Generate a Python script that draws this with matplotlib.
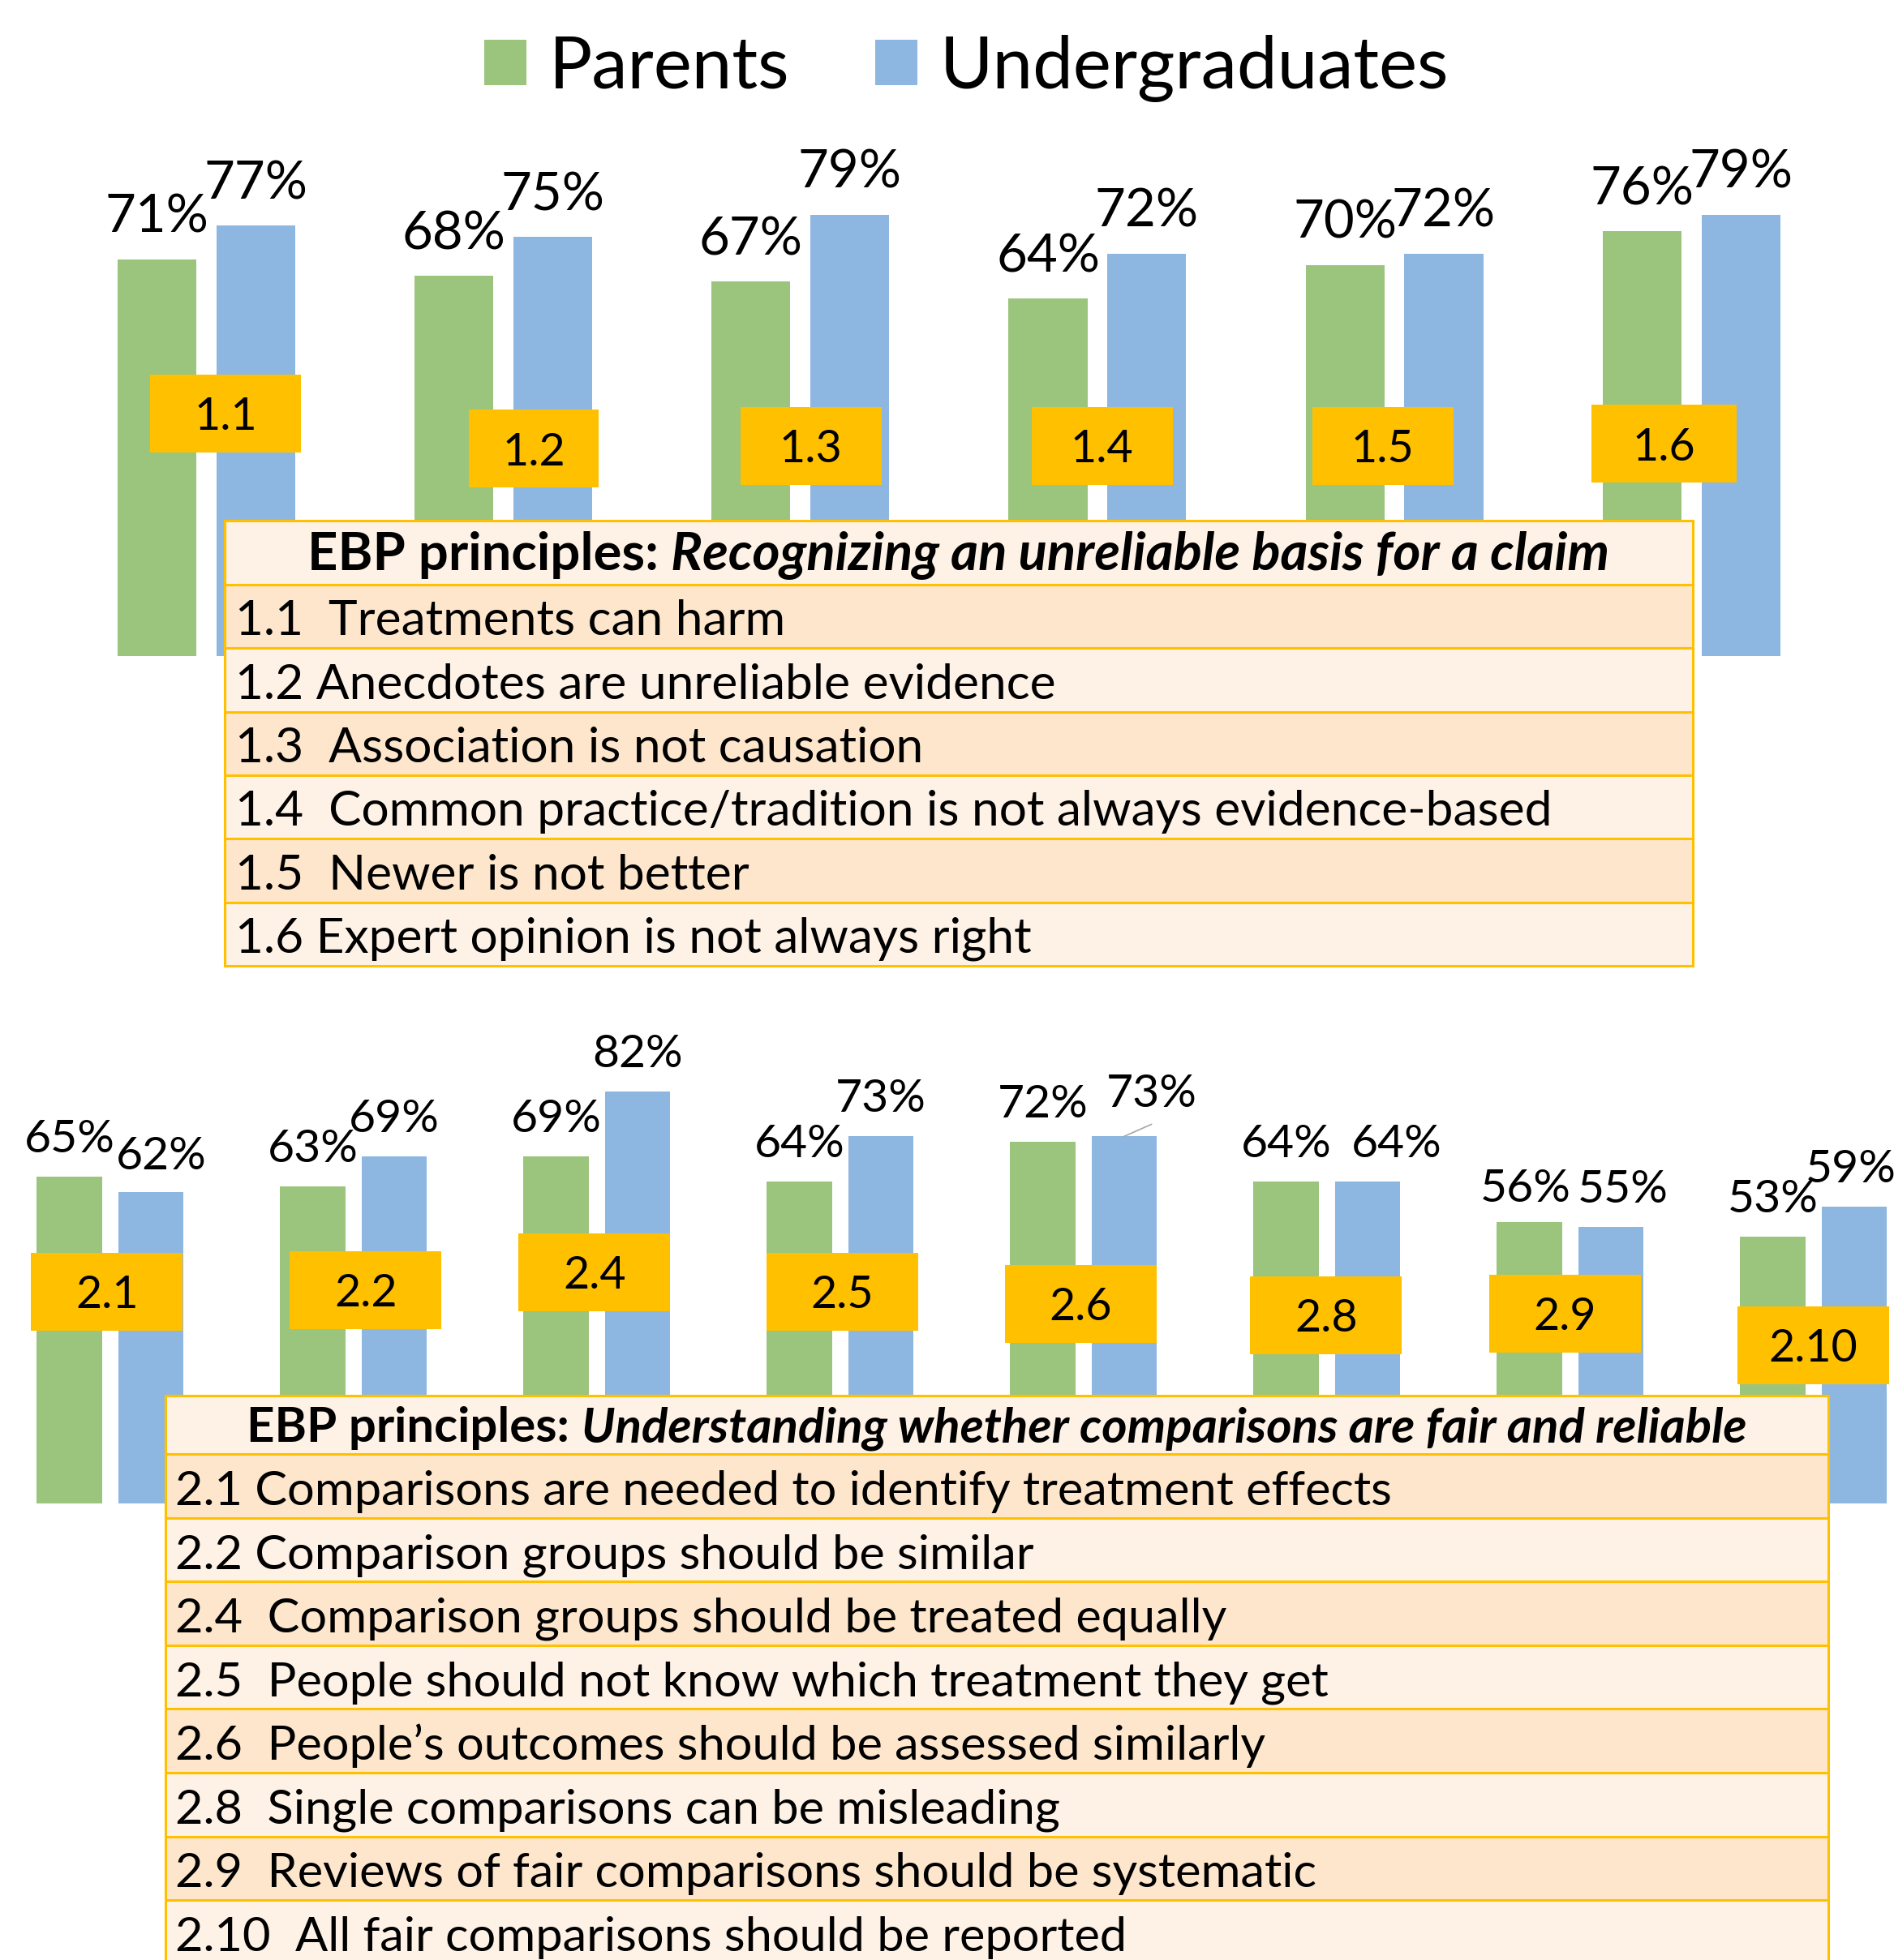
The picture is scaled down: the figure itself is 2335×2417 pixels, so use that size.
import matplotlib.pyplot as plt
import numpy as np
from matplotlib.patches import Rectangle, Patch

plt.rcParams['font.family'] = ['Lato', 'DejaVu Sans']

# ---- data ----
top_codes = ['1.1', '1.2', '1.3', '1.4', '1.5', '1.6']
top_parents = [71, 68, 67, 64, 70, 76]
top_under = [77, 75, 79, 72, 72, 79]
top_items = ["1.1  Treatments can harm",
             "1.2 Anecdotes are unreliable evidence",
             "1.3  Association is not causation",
             "1.4  Common practice/tradition is not always evidence-based",
             "1.5  Newer is not better",
             "1.6 Expert opinion is not always right"]

bot_codes = ['2.1', '2.2', '2.4', '2.5', '2.6', '2.8', '2.9', '2.10']
bot_parents = [65, 63, 69, 64, 72, 64, 56, 53]
bot_under = [62, 69, 82, 73, 73, 64, 55, 59]
bot_items = ["2.1 Comparisons are needed to identify treatment effects",
             "2.2 Comparison groups should be similar",
             "2.4  Comparison groups should be treated equally",
             "2.5  People should not know which treatment they get",
             "2.6  People\u2019s outcomes should be assessed similarly",
             "2.8  Single comparisons can be misleading",
             "2.9  Reviews of fair comparisons should be systematic",
             "2.10  All fair comparisons should be reported"]

GREEN = '#9BC47D'
BLUE = '#8DB7E0'
YELLOW = '#FFC000'
ROW_DARK = '#FDE6CC'
ROW_LIGHT = '#FEF2E6'

W, H = 2335, 2417
fig = plt.figure(figsize=(W / 100, H / 100), dpi=100)

PT = 0.72  # points per pixel at dpi 100


def bar_panel(rect, xlim, parents, under, codes, width, off, lab_size, lab_gap,
              dx_p, dx_u, dy_p, dy_u, box_pos, box_w, box_h, px_per_unit, px_per_pct):
    ax = fig.add_axes(rect)
    x = np.arange(len(parents))
    ax.bar(x - off, parents, width, color=GREEN, zorder=2)
    ax.bar(x + off, under, width, color=BLUE, zorder=2)
    ax.set_xlim(*xlim)
    ax.set_ylim(0, 100)
    ax.axis('off')
    for i in range(len(x)):
        ax.annotate(f'{parents[i]}%', (x[i] - off, parents[i]),
                    xytext=(dx_p[i] * PT, (lab_gap + dy_p[i]) * PT), textcoords='offset points',
                    ha='center', va='baseline', fontsize=lab_size, zorder=3)
        ax.annotate(f'{under[i]}%', (x[i] + off, under[i]),
                    xytext=(dx_u[i] * PT, (lab_gap + dy_u[i]) * PT), textcoords='offset points',
                    ha='center', va='baseline', fontsize=lab_size, zorder=3)
        bx, by = box_pos[i]
        bw = box_w[i] / px_per_unit
        bh = box_h / px_per_pct
        ax.add_patch(Rectangle((x[i] + bx - bw / 2, by - bh / 2), bw, bh,
                               facecolor=YELLOW, edgecolor='none', zorder=4, clip_on=False))
        ax.text(x[i] + bx, by, codes[i], ha='center', va='center_baseline',
                fontsize=40, zorder=5)
    return ax


# top panel: baseline at y=809px, 6.89 px per %, 366.2 px per group
top_box = [(0.065, 43.4), (0.103, 37.1), (0.035, 37.6), (0.016, 37.6), (-0.039, 37.6), (-0.092, 38.0)]
ax1 = bar_panel([0, (H - 809) / H, 1, 689 / H], (-254.3 / 366.2, (W - 254.3) / 366.2),
                top_parents, top_under, top_codes, 0.265, 0.1663, 47, 33,
                [0] * 6, [0] * 6, [0] * 6, [0] * 6,
                top_box, [186, 160, 174, 174, 174, 179], 96, 366.2, 6.89)

# bottom panel: baseline at y=1854px, 6.20 px per %, 300 px per group
bot_box = [(-0.013, 42.1), (0.051, 42.5), (-0.009, 46.0), (0.008, 42.1),
           (-0.010, 39.7), (-0.003, 37.5), (-0.020, 37.8), (0.000, 31.5)]
ax2 = bar_panel([0, (H - 1854) / H, 1, 620 / H], (-135.6 / 300, (W - 135.6) / 300),
                bot_parents, bot_under, bot_codes, 0.267, 0.167, 41, 30,
                [0, 0, 0, 0, 0, 0, -5, 0], [13, 0, 0, 0, 34, 36, 15, -4],
                [0, 0, 0, 0, 0, 0, -5, 0], [-2, 0, 0, 0, 6, 0, 0, 0],
                bot_box, [187] * 8, 96, 300, 6.20)
# leader line for the shifted 73% label
ax2.annotate('', xy=(4 + 0.167, bot_under[4]), xytext=(34 * PT, 15 * PT),
             textcoords='offset points',
             arrowprops=dict(arrowstyle='-', color='#A6A6A6', lw=1.2, shrinkA=0, shrinkB=0))

# ---- tables drawn in pixel coordinates ----
ov = fig.add_axes([0, 0, 1, 1], zorder=5)
ov.set_xlim(0, W)
ov.set_ylim(H, 0)
ov.axis('off')
ov.patch.set_visible(False)
renderer = fig.canvas.get_renderer()


def table(x0, x1, top, head_h, row_h, bold, ital, items, head_base, body_fs, head_fs):
    rows = [top, top + head_h] + [top + head_h + row_h * (k + 1) for k in range(len(items))]
    ov.add_patch(Rectangle((x0, rows[0]), x1 - x0, head_h, facecolor=ROW_LIGHT, edgecolor='none'))
    for k, item in enumerate(items):
        fc = ROW_DARK if k % 2 == 0 else ROW_LIGHT
        ov.add_patch(Rectangle((x0, rows[k + 1]), x1 - x0, row_h, facecolor=fc, edgecolor='none'))
        ov.text(x0 + 13, rows[k + 2] - 16, item, fontsize=body_fs, va='baseline', ha='left')
    for y in rows:
        ov.plot([x0, x1], [y, y], color=YELLOW, lw=2.2, solid_capstyle='butt')
    ov.plot([x0, x0], [rows[0], rows[-1]], color=YELLOW, lw=2.2)
    ov.plot([x1, x1], [rows[0], rows[-1]], color=YELLOW, lw=2.2)
    t1 = ov.text(0, rows[1] - head_base, bold, fontsize=head_fs, fontweight='bold', va='baseline')
    t2 = ov.text(0, rows[1] - head_base, ital, fontsize=head_fs, fontweight='bold',
                 style='italic', va='baseline')
    w1 = t1.get_window_extent(renderer).width
    w2 = t2.get_window_extent(renderer).width
    gap = 15
    start = (x0 + x1) / 2 - (w1 + gap + w2) / 2
    t1.set_x(start)
    t2.set_x(start + w1 + gap)


table(277, 2087, 642, 79, 78.3, 'EBP principles:', 'Recognizing an unreliable basis for a claim',
      top_items, 18, 43.5, 47)
table(203.5, 2253.5, 1721, 72, 78.6, 'EBP principles:',
      'Understanding whether comparisons are fair and reliable', bot_items, 15, 42.8, 43.2)

# ---- legend ----
handles = [Patch(facecolor=GREEN, edgecolor='none'), Patch(facecolor=BLUE, edgecolor='none')]
fig.legend(handles, ['Parents', 'Undergraduates'], loc='center', ncol=2,
           bbox_to_anchor=(1192 / W, 1 - 84 / H), frameon=False, fontsize=64,
           handlelength=0.585, handleheight=0.585, handletextpad=0.31,
           columnspacing=1.19, borderpad=0)

fig.savefig('out.png', dpi=100)
